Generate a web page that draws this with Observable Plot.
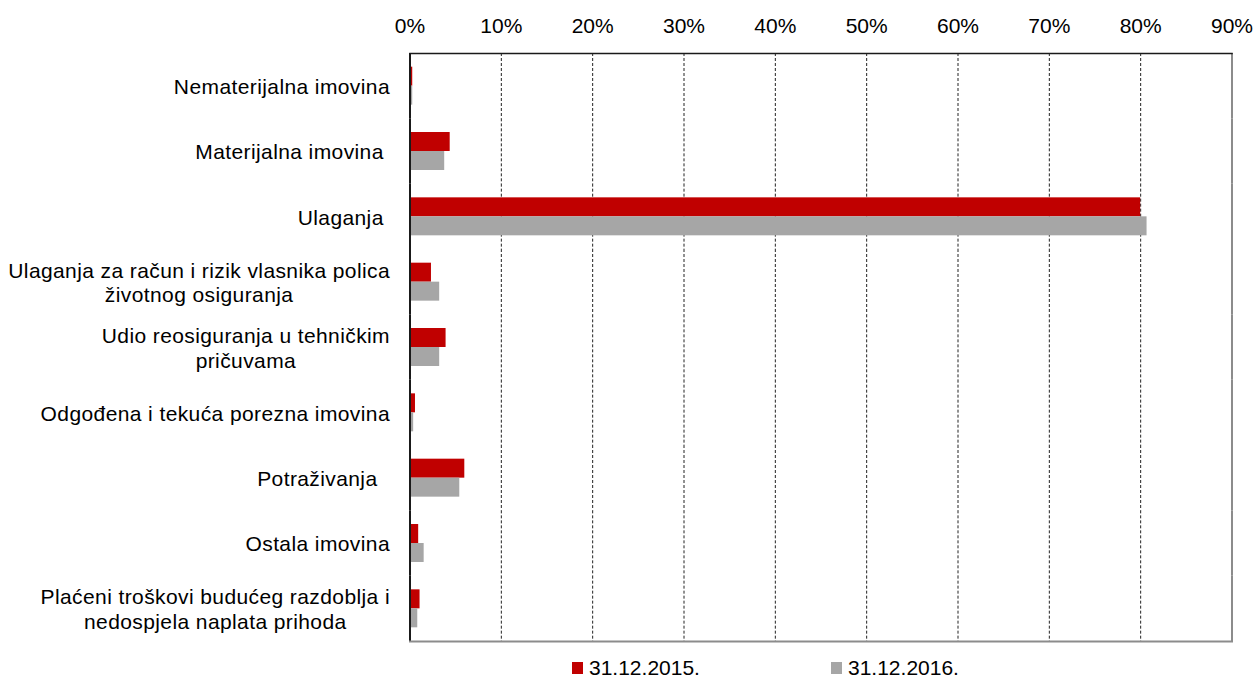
<!DOCTYPE html>
<html>
<head>
<meta charset="utf-8">
<script src="https://cdn.jsdelivr.net/npm/d3@7"></script>
<script src="https://cdn.jsdelivr.net/npm/@observablehq/plot@0.6"></script>
<style>
  html, body { margin: 0; padding: 0; background: #fff; }
  #chart { width: 1256px; height: 683px; overflow: hidden; font-family: "Liberation Sans", Arial, sans-serif; }
  .legend { display: flex; align-items: center; height: 31px; padding-left: 572px; box-sizing: border-box; font-size: 21px; line-height: 24px; color: #000; }
  .legend .item { display: flex; align-items: center; width: 259px; }
  .legend .sw { width: 11px; height: 12px; margin-right: 6px; flex: none; }
</style>
</head>
<body>
<div id="chart"></div>
<script>
const categories = [
  "Nematerijalna imovina",
  "Materijalna imovina\u00a0",
  "Ulaganja\u00a0",
  "Ulaganja za račun i rizik vlasnika polica\nživotnog osiguranja",
  "Udio reosiguranja u tehničkim\npričuvama",
  "Odgođena i tekuća porezna imovina",
  "Potraživanja\u00a0\u00a0",
  "Ostala imovina",
  "Plaćeni troškovi budućeg razdoblja i\nnedospjela naplata prihoda"
];
const series = ["31.12.2015.", "31.12.2016."];
const values2015 = [0.3, 4.4, 80.0, 2.35, 3.95, 0.6, 6.0, 0.95, 1.1];
const values2016 = [0.3, 3.8, 80.7, 3.25, 3.25, 0.4, 5.45, 1.55, 0.85];
const xTicks = [0, 10, 20, 30, 40, 50, 60, 70, 80, 90];
const xTickLabels = ["0%", "10%", "20%", "30%", "40%", "50%", "60%", "70%", "80%", "90%"];
const colors = ["#C00000", "#A6A6A6"];

const data = categories.flatMap((c, i) => [
  {category: c, series: series[0], value: values2015[i]},
  {category: c, series: series[1], value: values2016[i]}
]);

const plot = Plot.plot({
  width: 1256,
  height: 652,
  marginLeft: 409.5,
  marginRight: 24.5,
  marginTop: 53,
  marginBottom: 11,
  style: {fontFamily: "'Liberation Sans', Arial, sans-serif", fontSize: "21px", color: "#000", background: "#fff", overflow: "visible"},
  x: {domain: [0, 90], axis: null},
  y: {domain: series, axis: null, paddingInner: 0, paddingOuter: 0.72, round: false},
  fy: {domain: categories, padding: 0, axis: null, round: false},
  color: {domain: series, range: colors},
  marks: [
    Plot.gridX(xTicks.filter(t => t > 0 && t < 90), {stroke: "#222", strokeOpacity: 1, strokeDasharray: "3,2"}),
    Plot.barX(data, {x: "value", y: "series", fy: "category", fill: "series"}),
    Plot.ruleX([0], {stroke: "#1a1a1a", strokeWidth: 2}),
    Plot.ruleX([90], {stroke: "#8c8c8c", strokeWidth: 2}),
    Plot.frame({anchor: "top", facetAnchor: "top", stroke: "#1a1a1a", strokeWidth: 1.5}),
    Plot.frame({anchor: "bottom", facetAnchor: "bottom", stroke: "#8c8c8c", strokeWidth: 2}),
    Plot.axisX(xTicks, {anchor: "top", tickSize: 0, tickPadding: 21, label: null, tickFormat: d => xTickLabels[xTicks.indexOf(d)], fill: "#000"}),
    Plot.axisFy({anchor: "left", tickSize: 0, tickPadding: 20, label: null, lineHeight: 1.17, fill: "#000"})
  ]
});

const chart = document.getElementById("chart");
chart.appendChild(plot);

// slightly wider category labels, as in the original
plot.querySelectorAll('g[aria-label="fy-axis tick label"]').forEach(g => g.style.letterSpacing = "0.4px");

// center the lines of multi-line category labels within their block (right edge kept)
plot.querySelectorAll("text").forEach(t => {
  const spans = t.querySelectorAll("tspan");
  if (spans.length > 1) {
    const bb = t.getBBox();
    const right = bb.x + bb.width;
    let W = 0;
    spans.forEach(s => { W = Math.max(W, s.getComputedTextLength()); });
    t.setAttribute("text-anchor", "middle");
    spans.forEach(s => s.setAttribute("x", right - W / 2));
  }
});

const legend = document.createElement("div");
legend.className = "legend";
series.forEach((s, i) => {
  const item = document.createElement("div");
  item.className = "item";
  const sw = document.createElement("span");
  sw.className = "sw";
  sw.style.background = colors[i];
  const lab = document.createElement("span");
  lab.textContent = s;
  item.appendChild(sw);
  item.appendChild(lab);
  legend.appendChild(item);
});
chart.appendChild(legend);
</script>
</body>
</html>
